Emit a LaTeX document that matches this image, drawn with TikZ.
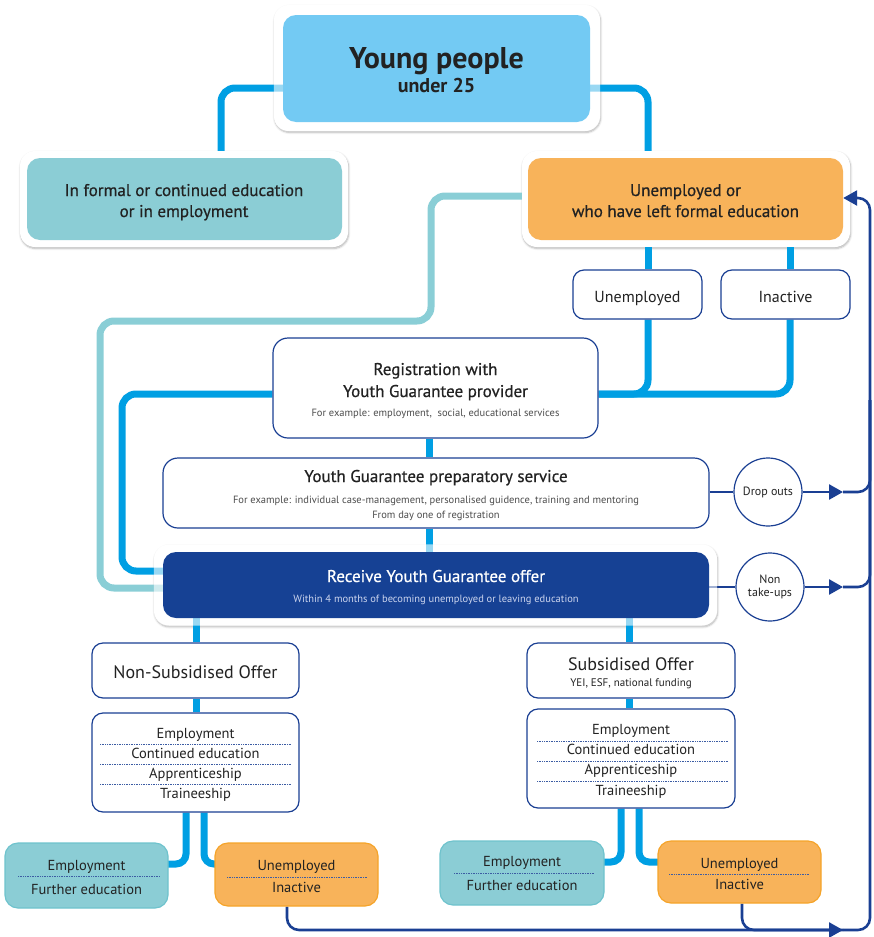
\documentclass[tikz,border=0pt]{standalone}
\usepackage{fontspec}
\setmainfont{PT Sans}
\newfontfamily\medfont{PT Sans}[FakeBold=0.6]
\usetikzlibrary{arrows.meta,shadows.blur,calc}
\pgfdeclarelayer{bg}\pgfdeclarelayer{lines}\pgfdeclarelayer{veil}
\pgfsetlayers{bg,lines,veil,main}
\definecolor{skyb}{HTML}{73CAF3}
\definecolor{lineb}{HTML}{009FE3}
\definecolor{tealc}{HTML}{8BCDD5}
\definecolor{tealline}{HTML}{8ACED6}
\definecolor{tealbd}{HTML}{6FC3CD}
\definecolor{orng}{HTML}{F8B35A}
\definecolor{orngbd}{HTML}{F5A42A}
\definecolor{dblue}{HTML}{1A3F93}
\definecolor{offer}{HTML}{164194}
\definecolor{txt}{HTML}{222222}
\definecolor{subtxt}{HTML}{4D4D4D}
\definecolor{offersub}{HTML}{CCD5EE}
\newcommand\myfs[1]{\fontsize{#1}{#1}\selectfont}
\tikzset{
  frm/.style={fill=white, rounded corners=15pt, inner sep=0pt,
    blur shadow={shadow blur steps=6, shadow xshift=0.6pt, shadow yshift=-1.4pt, shadow opacity=30}},
  wbox/.style={draw=dblue, line width=1.2pt, fill=white, rounded corners=11pt, inner sep=0pt},
  tbox/.style={draw=tealbd, line width=1.2pt, fill=tealc, rounded corners=13pt, inner sep=0pt},
  obox/.style={draw=orngbd, line width=1.2pt, fill=orng, rounded corners=13pt, inner sep=0pt},
  conn/.style={line width=7pt, lineb, rounded corners=14pt},
  sconn/.style={line width=7pt, lineb, rounded corners=10pt},
  tconn/.style={line width=7pt, tealline, rounded corners=14pt},
  flow/.style={line width=2.6pt, dblue, rounded corners=12pt},
  tip/.style={-{Triangle[length=14pt,width=15pt]}},
  circ/.style={circle, draw=dblue, line width=1.2pt, fill=white, minimum size=68pt, inner sep=0pt,
    font=\myfs{12}, align=center, text=txt},
  sep/.style={dblue!85, densely dotted, line width=0.7pt},
  lbl/.style={text=txt, inner sep=0pt, anchor=base},
  sub/.style={text=subtxt, inner sep=0pt, anchor=base, font=\myfs{10.5}},
  veilst/.style={fill=white, fill opacity=0.6, rounded corners=15pt}
}
\begin{document}
\begin{tikzpicture}[x=1pt,y=-1pt]
\useasboundingbox (0,0) rectangle (873,937);

% ---------- frames ----------
\begin{pgfonlayer}{bg}
\node[frm, minimum width=326pt, minimum height=126pt] (ypf) at (437,68) {};
\node[frm, minimum width=328pt, minimum height=96pt] (lbf) at (184,199) {};
\node[frm, minimum width=328pt, minimum height=96pt] (uef) at (686,199) {};
\node[frm, minimum width=563pt, minimum height=81pt] (rcf) at (435.5,585) {};
\end{pgfonlayer}

% ---------- top boxes ----------
\node[fill=skyb, rounded corners=13pt, minimum width=307pt, minimum height=107pt] (yp) at (436.5,68.5) {};
\node[lbl, font=\bfseries\myfs{30}] (ypt1) at (436.5,68) {Young people};
\node[lbl, font=\bfseries\myfs{20}] (ypt2) at (436.5,92) {under 25};

\node[fill=tealc, rounded corners=13pt, minimum width=315pt, minimum height=82pt] (lb) at (184.5,199) {};
\node[lbl, font=\medfont\myfs{17}] (lbt1) at (184,196) {In formal or continued education};
\node[lbl, font=\medfont\myfs{17}] (lbt2) at (184,217) {or in employment};

\node[fill=orng, rounded corners=13pt, minimum width=315pt, minimum height=82pt] (ue) at (685.5,199) {};
\node[lbl, font=\medfont\myfs{17}] (uet1) at (685.5,196) {Unemployed or};
\node[lbl, font=\medfont\myfs{17}] (uet2) at (685.5,217) {who have left formal education};

\node[wbox, minimum width=129pt, minimum height=49pt] (un) at (637.5,294.5) {};
\node[lbl, font=\myfs{16}] (unt) at (637.5,302) {Unemployed};
\node[wbox, minimum width=129pt, minimum height=49pt] (ina) at (785.5,294.5) {};
\node[lbl, font=\myfs{16}] (inat) at (785.5,302) {Inactive};

% ---------- registration / preparatory / offer ----------
\node[wbox, rounded corners=15pt, minimum width=325pt, minimum height=100pt] (reg) at (435.5,388) {};
\node[lbl, font=\medfont\myfs{17}] (regt1) at (435.5,375) {Registration with};
\node[lbl, font=\medfont\myfs{17}] (regt2) at (435.5,397) {Youth Guarantee provider};
\node[sub] (regt3) at (435.5,416) {For example: employment,\ \ social, educational services};

\node[wbox, rounded corners=15pt, minimum width=546pt, minimum height=70pt] (prep) at (436,493) {};
\node[lbl, font=\medfont\myfs{17}] (prept1) at (436,482) {Youth Guarantee preparatory service};
\node[sub] (prept2) at (436,503) {For example: individual case-management, personalised guidence, training and mentoring};
\node[sub] (prept3) at (436,518) {From day one of registration};

\node[fill=offer, rounded corners=13pt, minimum width=546pt, minimum height=66pt] (rc) at (436,585) {};
\node[lbl, text=white, font=\medfont\myfs{17}] (rct1) at (436,582) {Receive Youth Guarantee offer};
\node[sub, text=offersub] (rct2) at (436,602) {Within 4 months of becoming unemployed or leaving education};

\node[circ] (dr) at (768,492) {Drop outs};
\node[circ] (nt) at (770,587) {Non\\[1pt]take-ups};

% ---------- non-subsidised branch ----------
\node[wbox, minimum width=207pt, minimum height=55pt] (ns) at (195.5,670.5) {};
\node[lbl, font=\myfs{18}] (nst) at (195.5,678) {Non-Subsidised Offer};
\node[wbox, minimum width=207pt, minimum height=99pt] (l1) at (195.5,762.5) {};
\node[lbl, font=\myfs{14.5}] (l1a) at (195.5,738) {Employment};
\node[lbl, font=\myfs{14.5}] (l1b) at (195.5,758) {Continued education};
\node[lbl, font=\myfs{14.5}] (l1c) at (195.5,778) {Apprenticeship};
\node[lbl, font=\myfs{14.5}] (l1d) at (195.5,798) {Traineeship};
\draw[sep] (100,744) -- (292,744);
\draw[sep] (100,764) -- (292,764);
\draw[sep] (100,784) -- (292,784);

\node[tbox, minimum width=163pt, minimum height=65pt] (te1) at (86.5,875.5) {};
\node[lbl, font=\myfs{14.5}] (te1a) at (86.5,870) {Employment};
\node[lbl, font=\myfs{14.5}] (te1b) at (86.5,894) {Further education};
\draw[sep] (18,876) -- (160,876);
\node[obox, minimum width=163pt, minimum height=63pt] (or1) at (296.5,874.5) {};
\node[lbl, font=\myfs{14.5}] (or1a) at (296.5,870) {Unemployed};
\node[lbl, font=\myfs{14.5}] (or1b) at (296.5,892) {Inactive};
\draw[sep] (227,877) -- (368,877);

% ---------- subsidised branch ----------
\node[wbox, minimum width=208pt, minimum height=55pt] (so) at (631,670.5) {};
\node[lbl, font=\myfs{18}] (sot1) at (631,670) {Subsidised Offer};
\node[lbl, font=\myfs{11}] (sot2) at (631,686) {YEI, ESF, national funding};
\node[wbox, minimum width=208pt, minimum height=99pt] (l2) at (631,758.5) {};
\node[lbl, font=\myfs{14.5}] (l2a) at (631,734) {Employment};
\node[lbl, font=\myfs{14.5}] (l2b) at (631,754) {Continued education};
\node[lbl, font=\myfs{14.5}] (l2c) at (631,774) {Apprenticeship};
\node[lbl, font=\myfs{14.5}] (l2d) at (631,795) {Traineeship};
\draw[sep] (537,741) -- (729,741);
\draw[sep] (537,761) -- (729,761);
\draw[sep] (537,781) -- (729,781);

\node[tbox, minimum width=164pt, minimum height=64pt] (te2) at (522,873) {};
\node[lbl, font=\myfs{14.5}] (te2a) at (522,866) {Employment};
\node[lbl, font=\myfs{14.5}] (te2b) at (522,890) {Further education};
\draw[sep] (454,873) -- (595,873);
\node[obox, minimum width=163pt, minimum height=62pt] (or2) at (739.5,872) {};
\node[lbl, font=\myfs{14.5}] (or2a) at (739.5,868) {Unemployed};
\node[lbl, font=\myfs{14.5}] (or2b) at (739.5,889) {Inactive};
\draw[sep] (669,874) -- (810,874);

% ---------- coordinates ----------
\coordinate (k1) at (221,88);
\coordinate (k2) at (648,88);
\coordinate (k4) at (790,394);
\coordinate (k5) at (122,571);
\coordinate (k6) at (429,540);
\coordinate (t1) at (431,196);
\coordinate (t2) at (100,321);
\coordinate (t3) at (100,588);
\coordinate (b1) at (196,635);
\coordinate (b2) at (186,864);
\coordinate (b3) at (204,864);
\coordinate (b4) at (629,635);
\coordinate (b5) at (621,862);
\coordinate (b6) at (639,862);
\coordinate (Rt) at (870,198);
\coordinate (Rb) at (870,930);
\coordinate (Rm) at (870,400);
\coordinate (R1) at (870,492);
\coordinate (R2) at (870,587);
\coordinate (ar1) at (843,492);
\coordinate (ar2) at (843,587);
\coordinate (ar3) at (843,930);
\coordinate (g1) at (287,930);
\coordinate (g2) at (742,930);

% ---------- connectors ----------
\begin{pgfonlayer}{lines}
\draw[conn] (yp.west |- k1) -- (k1) -- (k1 |- lbf.north);
\draw[conn] (yp.east |- k2) -- (k2) -- (k2 |- uef.north);
\draw[conn] (k2 |- uef.south) -- (k2 |- un.north);
\draw[conn] (k4 |- uef.south) -- (k4 |- ina.north);
\draw[conn] (k2 |- un.south) -- (k2 |- k4) -- (reg.east |- k4);
\draw[conn] (k4 |- ina.south) -- (k4) -- (reg.east |- k4);
\draw[conn] (reg.west |- k4) -- (k5 |- k4) -- (k5) -- (rc.west |- k5);
\draw[conn] (k6 |- reg.south) -- (k6 |- prep.north);
\draw[conn] (k6 |- prep.south) -- (k6 |- rc.north);
\draw[tconn] (uef.west |- t1) -- (t1) -- (t1 |- t2) -- (t2) -- (t3) -- (rc.west |- t3);

\draw[conn] (b1 |- rc.south) -- (b1 |- ns.north);
\draw[conn] (b1 |- ns.south) -- (b1 |- l1.north);
\draw[sconn] (b2 |- l1.south) -- (b2) -- (te1.center |- b2);
\draw[sconn] (b3 |- l1.south) -- (b3) -- (or1.center |- b3);
\draw[conn] (b4 |- rc.south) -- (b4 |- so.north);
\draw[conn] (b4 |- so.south) -- (b4 |- l2.north);
\draw[sconn] (b5 |- l2.south) -- (b5) -- (te2.center |- b5);
\draw[sconn] (b6 |- l2.south) -- (b6) -- (or2.center |- b6);

\draw[flow] (prep.east |- R1) -- (dr.west);
\draw[flow, tip] (dr.east) -- (ar1);
\draw[flow] (ar1) -- (R1) -- (Rm);
\draw[flow] (rc.east |- R2) -- (nt.west);
\draw[flow, tip] (nt.east) -- (ar2);
\draw[flow] (ar2) -- (R2) -- (Rm);
\draw[flow, tip] (or1.south -| g1) -- (g1) -- (ar3);
\draw[flow] (or2.south -| g2) -- (g2) -- (ar3);
\draw[flow, tip] (ar3) -- (Rb) -- (Rt) -- (ue.east |- Rt);
\end{pgfonlayer}

% ---------- veils over frames ----------
\begin{pgfonlayer}{veil}
\fill[veilst] (ypf.south west) rectangle (ypf.north east);
\fill[veilst] (rcf.south west) rectangle (rcf.north east);
\end{pgfonlayer}
\end{tikzpicture}
\end{document}
